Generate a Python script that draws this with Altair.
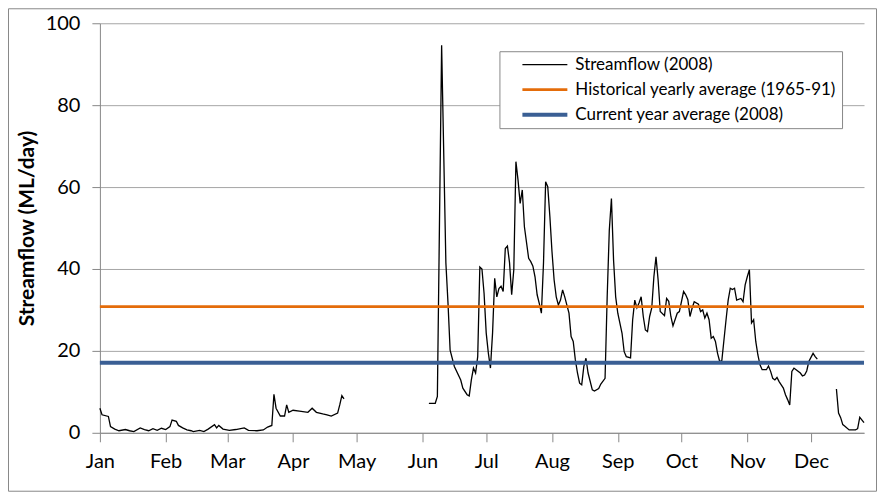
import altair as alt
import pandas as pd

# ---- Streamflow (2008), ML/day (three unbroken runs) ----
seg_a_dates = ["2008-01-01", "2008-01-02", "2008-01-05", "2008-01-06", "2008-01-08", "2008-01-10",
               "2008-01-13", "2008-01-15", "2008-01-17", "2008-01-20", "2008-01-22", "2008-01-24",
               "2008-01-26", "2008-01-28", "2008-01-30",
               "2008-02-01", "2008-02-03", "2008-02-04", "2008-02-06", "2008-02-07", "2008-02-09",
               "2008-02-11", "2008-02-13", "2008-02-14", "2008-02-17", "2008-02-19", "2008-02-21",
               "2008-02-24", "2008-02-25", "2008-02-26", "2008-02-28",
               "2008-03-02", "2008-03-05", "2008-03-09", "2008-03-11", "2008-03-15", "2008-03-18",
               "2008-03-20", "2008-03-22", "2008-03-23", "2008-03-24", "2008-03-26", "2008-03-28",
               "2008-03-29", "2008-03-30",
               "2008-04-01", "2008-04-04", "2008-04-08", "2008-04-10", "2008-04-12", "2008-04-15",
               "2008-04-17", "2008-04-19", "2008-04-22", "2008-04-23", "2008-04-24", "2008-04-25"]
seg_a_flow = [6.0, 4.4, 4.0, 1.5, 0.9, 0.5, 0.8, 0.5, 0.3, 1.2, 0.8, 0.5, 1.0, 0.6, 1.1,
              0.8, 1.5, 3.1, 2.8, 1.8, 1.2, 0.7, 0.5, 0.3, 0.6, 0.3, 0.9, 2.0, 1.2, 1.8, 0.9,
              0.6, 0.8, 1.2, 0.6, 0.5, 0.7, 1.4, 1.8, 9.4, 6.0, 4.1, 4.1, 6.8, 5.0,
              5.5, 5.3, 5.0, 6.0, 5.0, 4.6, 4.4, 4.1, 4.8, 6.8, 9.1, 8.3]

seg_b_dates = ["2008-06-04", "2008-06-07", "2008-06-08", "2008-06-10", "2008-06-12", "2008-06-13",
               "2008-06-14", "2008-06-16", "2008-06-19", "2008-06-20", "2008-06-22", "2008-06-23",
               "2008-06-24", "2008-06-25", "2008-06-26", "2008-06-27", "2008-06-28", "2008-06-29",
               "2008-06-30",
               "2008-07-01", "2008-07-02", "2008-07-03", "2008-07-04", "2008-07-05", "2008-07-06",
               "2008-07-07", "2008-07-08", "2008-07-09", "2008-07-10", "2008-07-11", "2008-07-12",
               "2008-07-13", "2008-07-14", "2008-07-15", "2008-07-16", "2008-07-17", "2008-07-18",
               "2008-07-19", "2008-07-21", "2008-07-22", "2008-07-23", "2008-07-24", "2008-07-25",
               "2008-07-26", "2008-07-27", "2008-07-28", "2008-07-29", "2008-07-30", "2008-07-31",
               "2008-08-01", "2008-08-02", "2008-08-03", "2008-08-04", "2008-08-05", "2008-08-06",
               "2008-08-07", "2008-08-09", "2008-08-10", "2008-08-11", "2008-08-12", "2008-08-13",
               "2008-08-14", "2008-08-15", "2008-08-16", "2008-08-17", "2008-08-18", "2008-08-20",
               "2008-08-21", "2008-08-23", "2008-08-24", "2008-08-26", "2008-08-27", "2008-08-28",
               "2008-08-29", "2008-08-30", "2008-08-31",
               "2008-09-01", "2008-09-03", "2008-09-04", "2008-09-05", "2008-09-07", "2008-09-08",
               "2008-09-09", "2008-09-10", "2008-09-11", "2008-09-12", "2008-09-13", "2008-09-14",
               "2008-09-15", "2008-09-16", "2008-09-17", "2008-09-18", "2008-09-19", "2008-09-20",
               "2008-09-21", "2008-09-23", "2008-09-24", "2008-09-25", "2008-09-26", "2008-09-27",
               "2008-09-29", "2008-09-30",
               "2008-10-02", "2008-10-03", "2008-10-04", "2008-10-05", "2008-10-06", "2008-10-07",
               "2008-10-09", "2008-10-10", "2008-10-11", "2008-10-12", "2008-10-13", "2008-10-14",
               "2008-10-15", "2008-10-16", "2008-10-17", "2008-10-18", "2008-10-19", "2008-10-20",
               "2008-10-21", "2008-10-22", "2008-10-23", "2008-10-24", "2008-10-25", "2008-10-26",
               "2008-10-27", "2008-10-29", "2008-10-30", "2008-10-31",
               "2008-11-01", "2008-11-02", "2008-11-03", "2008-11-04", "2008-11-05", "2008-11-06",
               "2008-11-07", "2008-11-08", "2008-11-10", "2008-11-11", "2008-11-12", "2008-11-13",
               "2008-11-14", "2008-11-15", "2008-11-16", "2008-11-17", "2008-11-18", "2008-11-19",
               "2008-11-20", "2008-11-21", "2008-11-22", "2008-11-23", "2008-11-24", "2008-11-26",
               "2008-11-27", "2008-11-28", "2008-11-29", "2008-11-30",
               "2008-12-02", "2008-12-03", "2008-12-04"]
seg_b_flow = [7.2, 7.2, 8.9, 94.6, 41.5, 31.7, 20.2, 16.2, 12.9, 10.9, 9.3, 9.0,
              12.9, 15.8, 14.6, 18.6, 40.5, 40.0, 34.0,
              24.4, 19.5, 15.8, 24.4, 37.7, 33.2, 35.2, 35.8, 34.5, 45.0, 45.6, 41.5,
              33.7, 39.8, 66.2, 61.7, 56.0, 59.3, 50.3, 42.6, 41.8, 40.7, 38.1, 33.7,
              31.6, 29.2, 41.5, 61.3, 60.1, 52.8,
              44.2, 37.3, 33.2, 31.2, 32.4, 34.9, 33.2, 29.2, 23.5, 22.3, 17.8, 14.6,
              12.1, 11.7, 16.2, 18.2, 14.6, 10.5, 10.2, 10.8, 11.9, 13.3, 33.2, 49.5,
              57.2, 42.2, 33.2,
              29.2, 24.3, 19.8, 18.6, 18.3, 27.6, 32.4, 30.5, 31.7, 33.2, 28.4, 25.1,
              24.7, 28.4, 30.5, 38.1, 43.0, 37.3, 29.6, 28.6, 32.8, 32.1, 28.4, 26.1,
              29.2, 29.6,
              34.5, 33.7, 32.5, 28.4, 30.4, 32.0, 31.4, 29.6, 30.0, 28.0, 29.2, 27.6,
              23.1, 23.5, 22.3, 19.4, 17.4, 17.6, 22.6, 27.6, 32.4, 35.3, 35.0, 35.3,
              32.4, 32.8, 32.0, 36.1,
              38.1, 39.8, 26.8, 27.6, 22.3, 19.0, 16.6, 15.4, 15.4, 16.3, 15.0, 13.3,
              12.9, 13.5, 12.5, 11.7, 10.9, 9.3, 8.1, 6.8, 15.0, 15.8, 15.4, 14.6,
              13.9, 14.1, 15.1, 17.4,
              19.4, 18.6, 18.0]

seg_c_dates = ["2008-12-13", "2008-12-14", "2008-12-15", "2008-12-16", "2008-12-17", "2008-12-19",
               "2008-12-22", "2008-12-23", "2008-12-24", "2008-12-26"]
seg_c_flow = [10.7, 4.8, 3.7, 2.0, 1.6, 0.7, 0.7, 1.0, 3.8, 2.5]

# ---- reference averages ----
historical_avg = 30.8
current_avg = 17.1

series_names = ["Streamflow (2008)", "Historical yearly average (1965-91)", "Current year average (2008)"]
series_colors = ["#000000", "#E46C0A", "#3A5F94"]
series_widths = [1.3, 4, 4]

y_ticks = [0, 20, 40, 60, 80, 100]
month_numbers = list(range(1, 13))

rows = []
for seg, (ds, vs) in enumerate([(seg_a_dates, seg_a_flow), (seg_b_dates, seg_b_flow), (seg_c_dates, seg_c_flow)]):
    for d, v in zip(ds, vs):
        rows.append({"date": pd.Timestamp(d), "flow": v, "seg": seg, "series": series_names[0]})
flow_df = pd.DataFrame(rows)
avg_df = pd.DataFrame({"flow": [historical_avg, current_avg], "series": series_names[1:]})

FONT = "Lato"

x_enc = alt.X("date:T",
              scale=alt.Scale(domain=[alt.DateTime(year=2008, month=1, date=1),
                                      alt.DateTime(year=2008, month=12, date=26)]),
              axis=alt.Axis(values=[alt.DateTime(year=2008, month=m, date=1) for m in month_numbers],
                            format="%b", title=None, grid=False, labelFlush=False, labelOverlap=False,
                            tickSize=9, tickColor="#888888", domainColor="#888888",
                            labelFont=FONT, labelFontSize=20, labelColor="#000000", labelPadding=10))
y_enc = alt.Y("flow:Q",
              scale=alt.Scale(domain=[0, 100], nice=False),
              axis=alt.Axis(values=y_ticks, title="Streamflow (ML/day)", grid=True, gridColor="#A6A6A6",
                            tickSize=8, tickColor="#888888", domainColor="#888888",
                            labelFont=FONT, labelFontSize=20, labelColor="#000000", labelPadding=12,
                            titleFont=FONT, titleFontSize=21, titleFontWeight="bold",
                            titleColor="#000000", titlePadding=8))
color_enc = alt.Color("series:N",
                      scale=alt.Scale(domain=series_names, range=series_colors),
                      legend=alt.Legend(title=None, orient="none", legendX=400, legendY=28,
                                        symbolType="stroke", symbolSize=2025, clipHeight=17,
                                        rowPadding=7, padding=5, symbolOffset=16, labelOffset=6,
                                        labelFont=FONT, labelFontSize=17, labelColor="#000000",
                                        labelLimit=500, strokeColor="#888888", fillColor="white"))
sw_enc = alt.StrokeWidth("series:N", scale=alt.Scale(domain=series_names, range=series_widths))

line = alt.Chart(flow_df).mark_line().encode(
    x=x_enc, y=y_enc, detail="seg:N", color=color_enc, strokeWidth=sw_enc)

rules = alt.Chart(avg_df).mark_rule().encode(
    y=alt.Y("flow:Q"), color=color_enc, strokeWidth=sw_enc)

frame = alt.Chart(pd.DataFrame({"k": [0]})).mark_rect(
    fill="white", fillOpacity=0, stroke="#888888", strokeWidth=1).encode(
    x=alt.value(-91.5), x2=alt.value(777.5), y=alt.value(-14.5), y2=alt.value(468.5))

chart = alt.layer(line, rules, frame).properties(
    width=765, height=410,
    padding={"left": 92, "top": 15, "right": 13, "bottom": 62},
    autosize=alt.AutoSizeParams(type="none"),
    background="white",
).configure_view(stroke=None)

chart.save("out.html", embed_options={"renderer": "svg", "actions": False})
